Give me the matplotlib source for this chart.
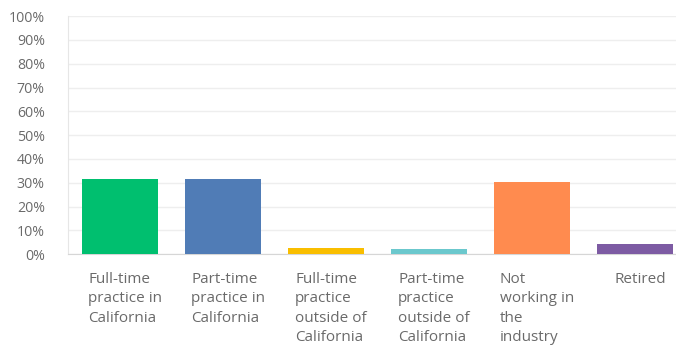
import numpy as np
import matplotlib
matplotlib.use('Agg')
import matplotlib.pyplot as plt
from matplotlib.ticker import PercentFormatter

categories = ['Full-time\npractice in\nCalifornia', 'Part-time\npractice in\nCalifornia',
              'Full-time\npractice\noutside of\nCalifornia', 'Part-time\npractice\noutside of\nCalifornia',
              'Not\nworking in\nthe\nindustry', 'Retired']
values = [31.5, 31.4, 2.4, 2.2, 30.2, 4.3]
colors = ['#00BF6F', '#507CB6', '#F9BE00', '#6BC8CD', '#FF8B4F', '#7D5BA3']
yticks = np.arange(0, 101, 10)

plt.rcParams['font.family'] = ['Open Sans', 'DejaVu Sans']

fig = plt.figure(figsize=(6.76, 3.51), dpi=100)
ax = fig.add_axes([0.1013, 0.276, 0.9137, 0.678])
x = np.arange(len(categories))
ax.bar(x, values, width=0.74, color=colors, zorder=3)
ax.set_xlim(-0.5, len(categories) - 0.5)
ax.set_ylim(0, 100)
ax.set_yticks(yticks)
ax.yaxis.set_major_formatter(PercentFormatter(decimals=0))
ax.tick_params(axis='y', length=0, pad=17, labelsize=10.2, labelcolor='#6a6a6a')
ax.tick_params(axis='x', length=0)
ax.set_xticks([])
ax.grid(axis='y', color='#eeeeee', linewidth=1, zorder=0)
for s in ['top', 'right']:
    ax.spines[s].set_visible(False)
ax.spines['left'].set_color('#e6e6e6')
ax.spines['bottom'].set_color('#d6d6d6')

for i, lab in enumerate(categories):
    ax.text(i + 0.05, -7.5, lab, ha='center', va='top', multialignment='left',
            fontsize=11, color='#6a6a6a', linespacing=1.4, transform=ax.transData)

fig.savefig('out.png', dpi=100)
